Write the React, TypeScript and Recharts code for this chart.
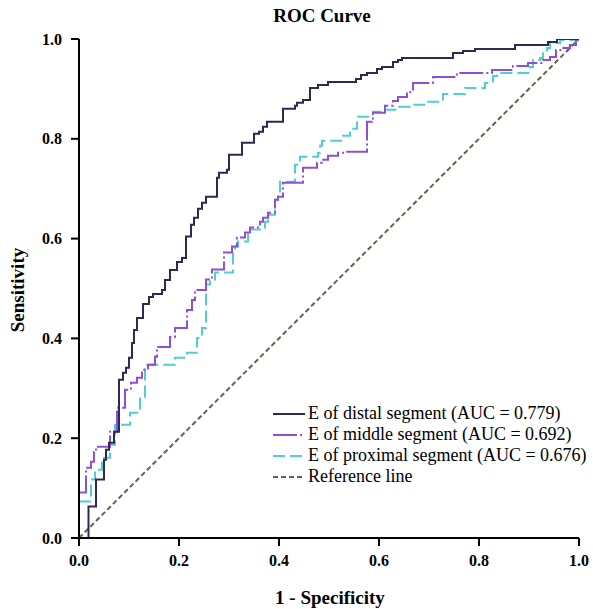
import React from 'react';
import { LineChart, Line, XAxis, YAxis, Legend } from 'recharts';

const ticks = [0, 0.2, 0.4, 0.6, 0.8, 1.0];

// [1 - specificity, sensitivity] at each step of the curve
const distal: [number, number][] = [
  [0, 0], [0.019, 0.063], [0.034, 0.117], [0.05, 0.157], [0.054, 0.177], [0.06, 0.191],
  [0.07, 0.213], [0.08, 0.317], [0.088, 0.331], [0.094, 0.341], [0.1, 0.361], [0.106, 0.391],
  [0.11, 0.417], [0.116, 0.441], [0.128, 0.469], [0.14, 0.483], [0.148, 0.489], [0.166, 0.497],
  [0.172, 0.517], [0.182, 0.537], [0.196, 0.553], [0.206, 0.561], [0.214, 0.604], [0.224, 0.628],
  [0.23, 0.642], [0.238, 0.66], [0.246, 0.672], [0.254, 0.684], [0.276, 0.722], [0.28, 0.732],
  [0.296, 0.738], [0.3, 0.768], [0.326, 0.792], [0.35, 0.81], [0.36, 0.814], [0.368, 0.824],
  [0.376, 0.834], [0.408, 0.86], [0.432, 0.866], [0.436, 0.872], [0.448, 0.878], [0.462, 0.902],
  [0.478, 0.908], [0.498, 0.914], [0.554, 0.92], [0.564, 0.928], [0.576, 0.932], [0.596, 0.94],
  [0.606, 0.944], [0.628, 0.954], [0.638, 0.958], [0.646, 0.962], [0.748, 0.972], [0.768, 0.976],
  [0.792, 0.98], [0.872, 0.988], [0.938, 0.994], [0.956, 1.0], [1.0, 1.0],
];

const middle: [number, number][] = [
  [0, 0.091], [0.014, 0.141], [0.024, 0.153], [0.03, 0.173], [0.034, 0.183], [0.062, 0.213],
  [0.076, 0.261], [0.092, 0.297], [0.104, 0.311], [0.116, 0.321], [0.126, 0.337], [0.138, 0.347],
  [0.152, 0.363], [0.156, 0.383], [0.182, 0.403], [0.192, 0.421], [0.216, 0.457], [0.226, 0.477],
  [0.232, 0.497], [0.254, 0.518], [0.266, 0.538], [0.29, 0.572], [0.306, 0.584], [0.316, 0.602],
  [0.332, 0.612], [0.342, 0.622], [0.362, 0.634], [0.368, 0.642], [0.378, 0.652], [0.392, 0.678],
  [0.398, 0.684], [0.408, 0.712], [0.448, 0.742], [0.476, 0.752], [0.486, 0.758], [0.498, 0.766],
  [0.518, 0.772], [0.532, 0.774], [0.576, 0.834], [0.586, 0.838], [0.588, 0.852], [0.612, 0.866],
  [0.628, 0.876], [0.638, 0.884], [0.656, 0.894], [0.668, 0.912], [0.708, 0.924], [0.756, 0.932],
  [0.826, 0.938], [0.868, 0.946], [0.898, 0.952], [0.928, 0.958], [0.942, 0.964], [0.954, 0.978],
  [0.966, 0.982], [0.982, 0.988], [0.994, 1.0], [1.0, 1.0],
];

const proximal: [number, number][] = [
  [0, 0.073], [0.024, 0.117], [0.032, 0.137], [0.046, 0.161], [0.062, 0.187], [0.072, 0.227],
  [0.102, 0.251], [0.122, 0.283], [0.132, 0.347], [0.192, 0.361], [0.216, 0.371], [0.236, 0.401],
  [0.246, 0.421], [0.254, 0.508], [0.262, 0.514], [0.272, 0.532], [0.308, 0.572], [0.312, 0.584],
  [0.318, 0.594], [0.338, 0.618], [0.372, 0.634], [0.378, 0.648], [0.392, 0.678], [0.398, 0.692],
  [0.402, 0.714], [0.432, 0.748], [0.442, 0.764], [0.478, 0.772], [0.482, 0.786], [0.486, 0.796],
  [0.528, 0.806], [0.542, 0.82], [0.556, 0.844], [0.588, 0.854], [0.606, 0.858], [0.636, 0.864],
  [0.662, 0.868], [0.696, 0.874], [0.728, 0.89], [0.772, 0.902], [0.812, 0.912], [0.828, 0.926],
  [0.836, 0.932], [0.902, 0.944], [0.908, 0.958], [0.922, 0.962], [0.928, 0.972], [0.936, 0.982],
  [0.942, 0.992], [0.962, 0.998], [0.992, 1.0], [1.0, 1.0],
];

const reference: [number, number][] = [[0, 0], [1, 1]];

const seriesNames = [
  'E of distal segment (AUC = 0.779)',
  'E of middle segment (AUC = 0.692)',
  'E of proximal segment (AUC = 0.676)',
  'Reference line',
];

const serif = '"Liberation Serif", "Times New Roman", serif';

const toRows = (pts: [number, number][]) => pts.map(([x, y]) => ({ x, y }));

const series = [
  { name: seriesNames[0], data: toRows(distal), color: '#2c2a52', dash: undefined, type: 'stepAfter' },
  { name: seriesNames[1], data: toRows(middle), color: '#8f4fd3', dash: '24 3 2 3', type: 'stepAfter' },
  { name: seriesNames[2], data: toRows(proximal), color: '#4fd0d0', dash: '12 5', type: 'stepAfter' },
  { name: seriesNames[3], data: toRows(reference), color: '#66624c', dash: '5 3', type: 'linear' },
];

const renderLegend = () => (
  <div style={{ fontFamily: serif, fontSize: 18, color: '#000', lineHeight: '21px' }}>
    {series.map((s) => (
      <div key={s.name} style={{ display: 'flex', alignItems: 'center', height: 21, whiteSpace: 'nowrap' }}>
        <svg width={35} height={10} style={{ marginRight: 1 }}>
          <line x1={1} y1={5} x2={33} y2={5} stroke={s.color} strokeWidth={2} strokeDasharray={s.dash} />
        </svg>
        <span>{s.name}</span>
      </div>
    ))}
  </div>
);

const tickStyle = { fontFamily: serif, fontSize: 16, fontWeight: 'bold', fill: '#000' };

const labelStyle: React.CSSProperties = {
  position: 'absolute',
  fontFamily: serif,
  fontSize: 19,
  fontWeight: 'bold',
  whiteSpace: 'nowrap',
  transform: 'translate(-50%, -50%)',
};

export default function App() {
  return (
    <div style={{ position: 'absolute', left: 0, top: 0, width: 593, height: 609, background: '#fff' }}>
      <div style={{ ...labelStyle, left: 322, top: 16 }}>ROC Curve</div>
      <div style={{ ...labelStyle, left: 18, top: 290, transform: 'translate(-50%, -50%) rotate(-90deg)' }}>
        Sensitivity
      </div>
      <div style={{ ...labelStyle, left: 330, top: 598 }}>1 - Specificity</div>
      <LineChart width={593} height={609} margin={{ top: 39, right: 14, bottom: 1, left: 0 }}>
        <XAxis
          type="number"
          dataKey="x"
          domain={[0, 1]}
          ticks={ticks}
          tickFormatter={(v: number) => v.toFixed(1)}
          tick={tickStyle}
          axisLine={{ stroke: '#000', strokeWidth: 2 }}
          tickLine={{ stroke: '#000', strokeWidth: 2 }}
          tickSize={8}
          tickMargin={9}
          height={70}
          allowDataOverflow
        />
        <YAxis
          type="number"
          dataKey="y"
          domain={[0, 1]}
          ticks={ticks}
          tickFormatter={(v: number) => v.toFixed(1)}
          tick={tickStyle}
          axisLine={{ stroke: '#000', strokeWidth: 2 }}
          tickLine={{ stroke: '#000', strokeWidth: 2 }}
          tickSize={8}
          tickMargin={9}
          width={79}
          allowDataOverflow
        />
        <Legend
          layout="vertical"
          align="center"
          verticalAlign="middle"
          content={renderLegend}
          wrapperStyle={{ left: 272, top: 403, width: 'auto' }}
        />
        {series.slice().reverse().map((s) => (
          <Line
            key={s.name}
            data={s.data}
            dataKey="y"
            name={s.name}
            type={s.type as any}
            stroke={s.color}
            strokeWidth={2}
            strokeDasharray={s.dash}
            dot={false}
            activeDot={false}
            isAnimationActive={false}
          />
        ))}
      </LineChart>
    </div>
  );
}
